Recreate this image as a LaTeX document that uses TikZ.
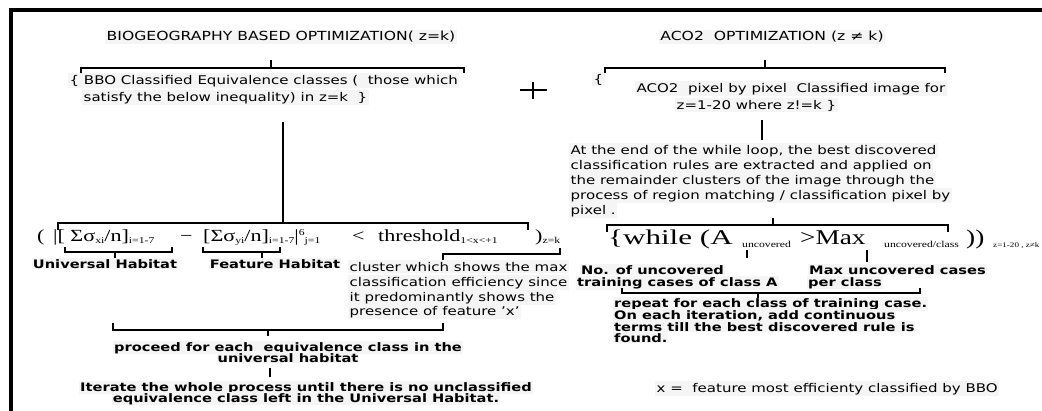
\documentclass[tikz,border=0pt]{standalone}
\usepackage{fontspec}
\setmainfont{DejaVu Sans}[FakeStretch=1.25]
\newfontfamily\srf{Liberation Serif}[FakeStretch=1.3]
\newfontfamily\srfw{Liberation Serif}[FakeStretch=1.48]
\newcommand\subt[2]{\raisebox{-2.5pt}{\fontsize{#1}{#1}\selectfont #2}}
\newcommand\supt[2]{\raisebox{6pt}{\fontsize{#1}{#1}\selectfont #2}}
\begin{document}
\begin{tikzpicture}[x=1pt,y=-1pt,
  tx/.style={font=\fontsize{12}{14}\selectfont, inner sep=1.5pt, fill=black!4, anchor=base west},
  tt/.style={font=\fontsize{12.5}{14}\selectfont, inner sep=1.5pt, fill=black!4, anchor=base},
  bd/.style={font=\fontsize{11.7}{13}\selectfont\bfseries, inner sep=1pt, fill=black!4, anchor=base west},
  bdc/.style={bd, anchor=base},
  fm/.style={font=\srf\fontsize{17}{19}\selectfont, inner sep=0pt, anchor=base west},
  fr/.style={font=\srf\fontsize{21}{23}\selectfont, inner sep=0pt, anchor=base west},
  frs/.style={font=\srf\fontsize{9}{9}\selectfont, inner sep=0pt, anchor=base west},
  ln/.style={line width=1.2pt},
  framel/.style={line width=4pt}]
\useasboundingbox (0,0) rectangle (1042,410);
% frame
\coordinate (fa) at (11,412);
\coordinate (fb) at (11,10);
\coordinate (fc) at (1044,10);
\draw[framel] (fa) -- (fb) -- (fc);

% ---------- left side texts
\node[tt] (t1) at (281,40.5) {BIOGEOGRAPHY BASED OPTIMIZATION( z=k)};
\node[tx] (b1) at (68,84) {\{ BBO Classified Equivalence classes (~ those which};
\node[tx] (b2) at (82,101) {satisfy the below inequality) in z=k~ \}};

% formula left
\node[fm] (f1) at (37,241) {(};
\node[fm] (f2) at (53,241) {|[ Σσ\subt{9}{xi}/n]\subt{9}{i=1-7}};
\node[fm] (f3) at (180,241) {−};
\node[fm] (f4) at (203,241) {[Σσ\subt{9}{yi}/n]\subt{9}{i=1-7}|\supt{9}{6}\subt{9}{j=1}};
\node[fm] (f5) at (352,241) {<};
\node[fm] (f6) at (378,241) {threshold\subt{9}{1<x<+1}};
\node[fm] (f7) at (535,241) {)\subt{9}{z=k}};

\node[bdc] (uh) at (105,268) {Universal Habitat};
\node[bdc] (fh) at (275,268) {Feature Habitat};

\node[tx] (c1) at (348,271) {cluster which shows the max};
\node[tx] (c2) at (348,286) {classification efficiency since};
\node[tx] (c3) at (348,301) {it predominantly shows the};
\node[tx] (c4) at (348,315) {presence of feature 'x'};

\node[bdc] (p1) at (288,351) {proceed for each~ equivalence class in the};
\node[bdc] (p2) at (288,362) {universal habitat};
\node[bdc] (i1) at (306,391) {Iterate the whole process until there is no unclassified};
\node[bdc] (i2) at (306,402) {equivalence class left in the Universal Habitat.};

% ---------- right side texts
\node[tt] (t2) at (772,40.5) {ACO2~ OPTIMIZATION (z ≠ k)};
\node[tx] (a0) at (592,83) {\{};
\node[tx] (a1) at (635,92) {ACO2~ pixel by pixel~ Classified image for};
\node[tx] (a2) at (675,109) {z=1-20 where z!=k \}};

\node[tx] (q1) at (569,154) {At the end of the while loop, the best discovered};
\node[tx] (q2) at (569,169) {classification rules are extracted and applied on};
\node[tx] (q3) at (569,184) {the remainder clusters of the image through the};
\node[tx] (q4) at (569,199) {process of region matching / classification pixel by};
\node[tx] (q5) at (569,214) {pixel .};

% formula right
\node[fr, font=\srfw\fontsize{21}{23}\selectfont] (r1) at (608,244) {\{while (A};
\node[frs] (r2) at (742,247) {uncovered};
\node[fr] (r3) at (800,244) {>Max};
\node[frs] (r4) at (884,247) {uncovered/class};
\node[fr] (r5) at (966,244) {))};
\node[frs, font=\srf\fontsize{7}{7}\selectfont] (r6) at (993,247) {z=1-20 , z≠k};

\node[bd] (n1) at (580,274) {No. of uncovered};
\node[bd] (n2) at (576,286) {training cases of class A};
\node[bd] (m1) at (808,274) {Max uncovered cases};
\node[bd] (m2) at (807,286) {per class};

\node[bd] (e1) at (613,307) {repeat for each class of training case.};
\node[bd] (e2) at (613,319) {On each iteration, add continuous};
\node[bd] (e3) at (613,331) {terms till the best discovered rule is};
\node[bd] (e4) at (613,342) {found.};

\node[tx] (xx) at (655,392) {x =~ feature most efficienty classified by BBO};

% ---------- connectors left
\coordinate (lt0) at (271,60); \coordinate (lt1) at (271,68);
\coordinate (lb1) at (81,73); \coordinate (lb2) at (81,68);
\coordinate (lb3) at (464,68); \coordinate (lb4) at (464,73);
\draw[ln] (lt0) -- (lt1);
\draw[ln] (lb1) -- (lb2) -- (lb3) -- (lb4);
\coordinate (v1) at (283,122); \coordinate (v2) at (283,223);
\draw[ln] (v1) -- (v2);
\coordinate (fb1) at (58,230); \coordinate (fb2) at (58,223);
\coordinate (fb3) at (528,223); \coordinate (fb4) at (528,230);
\draw[ln] (fb1) -- (fb2) -- (fb3) -- (fb4);
\coordinate (u1) at (65,247); \coordinate (u2) at (65,252);
\coordinate (u3) at (172,252); \coordinate (u4) at (172,247);
\coordinate (u5) at (115,252); \coordinate (u6) at (115,258);
\draw[ln] (u1) -- (u2) -- (u3) -- (u4);
\draw[ln] (u5) -- (u6);
\coordinate (h1) at (203,247); \coordinate (h2) at (203,252);
\coordinate (h3) at (280,252); \coordinate (h4) at (280,247);
\coordinate (h5) at (262,252); \coordinate (h6) at (262,258);
\draw[ln] (h1) -- (h2) -- (h3) -- (h4);
\draw[ln] (h5) -- (h6);
\coordinate (k1) at (443,260); \coordinate (k2) at (443,254);
\coordinate (k3) at (560,254); \coordinate (k4) at (560,248);
\draw[ln] (k1) -- (k2) -- (k3) -- (k4);
\coordinate (g1) at (113,323); \coordinate (g2) at (113,330);
\coordinate (g3) at (443,330); \coordinate (g4) at (443,323);
\coordinate (g5) at (268,330); \coordinate (g6) at (268,336);
\draw[ln] (g1) -- (g2) -- (g3) -- (g4);
\draw[ln] (g5) -- (g6);
\coordinate (w1) at (270,368); \coordinate (w2) at (270,377);
\draw[ln] (w1) -- (w2);

% ---------- connectors right
\coordinate (rt0) at (765,60); \coordinate (rt1) at (765,68);
\coordinate (rb1) at (605,73); \coordinate (rb2) at (605,68);
\coordinate (rb3) at (945,68); \coordinate (rb4) at (945,73);
\draw[ln] (rt0) -- (rt1);
\draw[ln] (rb1) -- (rb2) -- (rb3) -- (rb4);
\coordinate (pl1) at (520,90); \coordinate (pl2) at (547,90);
\coordinate (pl3) at (533,82); \coordinate (pl4) at (533,99);
\draw[ln] (pl1) -- (pl2); \draw[ln] (pl3) -- (pl4);
\coordinate (rv1) at (762,120); \coordinate (rv2) at (762,140);
\draw[ln] (rv1) -- (rv2);
\coordinate (rf1) at (607,232); \coordinate (rf2) at (607,225);
\coordinate (rf3) at (948,225); \coordinate (rf4) at (948,232);
\coordinate (rf5) at (773,218); \coordinate (rf6) at (773,225);
\draw[ln] (rf1) -- (rf2) -- (rf3) -- (rf4);
\draw[ln] (rf5) -- (rf6);
\coordinate (s1) at (747,250); \coordinate (s2) at (747,258);
\coordinate (s3) at (867,250); \coordinate (s4) at (867,262);
\draw[ln] (s1) -- (s2); \draw[ln] (s3) -- (s4);
\coordinate (o1) at (622,288); \coordinate (o2) at (622,293);
\coordinate (o3) at (920,293); \coordinate (o4) at (920,288);
\coordinate (o5) at (758,293); \coordinate (o6) at (758,298);
\draw[ln] (o1) -- (o2) -- (o3) -- (o4);
\draw[ln] (o5) -- (o6);
\end{tikzpicture}
\end{document}
